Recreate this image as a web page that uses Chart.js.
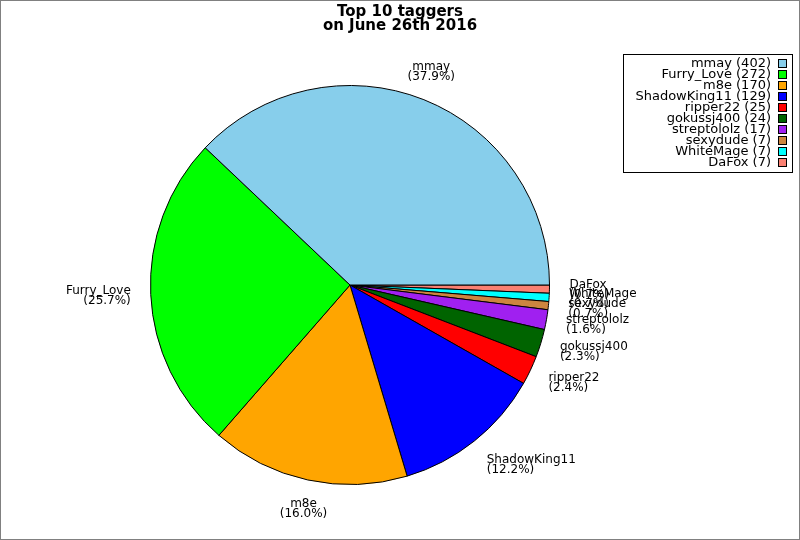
<!DOCTYPE html>
<html>
<head>
<meta charset="utf-8">
<script src="https://cdn.jsdelivr.net/npm/chart.js@4/dist/chart.umd.min.js"></script>
<style>
  html, body { margin: 0; padding: 0; background: #fff; }
  #wrap { width: 800px; height: 540px; }
</style>
</head>
<body>
<div id="wrap"><canvas id="pie" width="800" height="540"></canvas></div>
<script>
// taggers, biggest first (same order as the legend)
const names = ['mmay', 'Furry_Love', 'm8e', 'ShadowKing11', 'ripper22',
  'gokussj400', 'streptololz', 'sexydude', 'WhiteMage', 'DaFox'];
const counts = [402, 272, 170, 129, 25, 24, 17, 7, 7, 7];
const colors = ['#87ceeb', '#00ff00', '#ffa500', '#0000ff', '#ff0000',
  '#006400', '#a020f0', '#cd853f', '#00ffff', '#fa8072'];
const titleLines = ['Top 10 taggers', 'on June 26th 2016'];

const total = counts.reduce((a, b) => a + b, 0);
const pct = v => (v / total * 100).toFixed(1);

// the original goes counter-clockwise from 3 o'clock, chart.js goes clockwise,
// so feed the slices reversed and start at 90deg
const rev = a => a.slice().reverse();

const FONT = '"DejaVu Sans", Verdana, sans-serif';

const decor = {
  id: 'decor',
  afterDatasetsDraw(chart) {
    const ctx = chart.ctx;
    const meta = chart.getDatasetMeta(0);
    const revNames = rev(names);
    const revCounts = rev(counts);

    // slice labels
    ctx.save();
    ctx.fillStyle = '#000';
    ctx.font = '12px ' + FONT;
    ctx.textBaseline = 'middle';
    const lh = 10;
    meta.data.forEach((arc, i) => {
      const p = arc.getProps(['x', 'y', 'startAngle', 'endAngle', 'outerRadius'], true);
      const mid = (p.startAngle + p.endAngle) / 2;
      const c = Math.cos(mid), s = Math.sin(mid);
      const px = p.x + p.outerRadius * 1.1 * c;
      const py = p.y + p.outerRadius * 1.1 * s;
      const lines = [revNames[i], '(' + pct(revCounts[i]) + '%)'];
      const h = lines.length * lh;
      const top = py - h * (0.5 - 0.5 * s);
      if (Math.abs(c) < 0.5) ctx.textAlign = 'center';
      else ctx.textAlign = c > 0 ? 'left' : 'right';
      lines.forEach((t, k) => ctx.fillText(t, px, top + lh * k + lh / 2));
    });
    ctx.restore();
  },
  afterDraw(chart) {
    const ctx = chart.ctx;
    ctx.save();

    // title
    ctx.fillStyle = '#000';
    ctx.font = 'bold 15px ' + FONT;
    ctx.textAlign = 'center';
    ctx.textBaseline = 'alphabetic';
    ctx.fillText(titleLines[0], 400, 16);
    ctx.fillText(titleLines[1], 400, 29.5);

    // legend box
    ctx.strokeStyle = '#000';
    ctx.lineWidth = 1;
    ctx.strokeRect(623.5, 54.5, 169, 118);
    ctx.font = '13px ' + FONT;
    ctx.textAlign = 'right';
    ctx.textBaseline = 'middle';
    names.forEach((n, i) => {
      const y = 63.5 + i * 11;
      ctx.fillStyle = '#000';
      ctx.fillText(n + ' (' + counts[i] + ')', 771, y);
      ctx.fillStyle = colors[i];
      ctx.fillRect(778.5, Math.round(y) - 4.5, 8, 8);
      ctx.strokeRect(778.5, Math.round(y) - 4.5, 8, 8);
    });

    // outer frame
    ctx.strokeStyle = '#808080';
    ctx.strokeRect(0.5, 0.5, 799, 539);
    ctx.restore();
  }
};

new Chart(document.getElementById('pie'), {
  type: 'pie',
  data: {
    labels: rev(names),
    datasets: [{
      data: rev(counts),
      backgroundColor: rev(colors),
      borderColor: '#000',
      borderWidth: 1,
      hoverOffset: 0
    }]
  },
  options: {
    responsive: false,
    animation: false,
    rotation: 90,
    layout: { padding: { top: 85, bottom: 55, left: 0, right: 100 } },
    plugins: {
      legend: { display: false },
      title: { display: false },
      tooltip: { enabled: false }
    }
  },
  plugins: [decor]
});
</script>
</body>
</html>
